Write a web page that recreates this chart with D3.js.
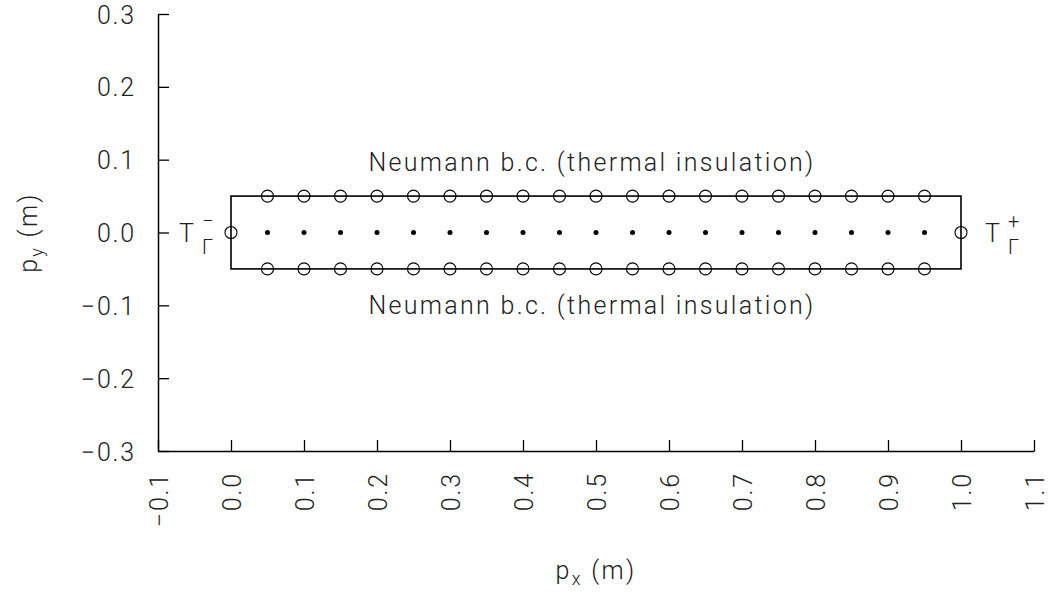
<!DOCTYPE html>
<html>
<head>
<meta charset="utf-8">
<script src="https://cdn.jsdelivr.net/npm/d3@7"></script>
<style>
  body { margin: 0; background: #fff; }
  text { font-family: Roboto, "DejaVu Sans", sans-serif; font-weight: 300; fill: #222; letter-spacing: 1.8px; }
</style>
</head>
<body>
<div id="chart"></div>
<script>
// grid nodes along the bar (interior and boundary)
var interiorX = [0.05, 0.10, 0.15, 0.20, 0.25, 0.30, 0.35, 0.40, 0.45, 0.50, 0.55, 0.60, 0.65, 0.70, 0.75, 0.80, 0.85, 0.90, 0.95];
var interiorY = 0.0;
var wallTopY = 0.05, wallBottomY = -0.05;
var endNodes = [{x: 0.0, y: 0.0}, {x: 1.0, y: 0.0}];
var domainBox = {x0: 0.0, x1: 1.0, y0: -0.05, y1: 0.05};

var xTicks = [-0.1, 0.0, 0.1, 0.2, 0.3, 0.4, 0.5, 0.6, 0.7, 0.8, 0.9, 1.0, 1.1];
var yTicks = [-0.3, -0.2, -0.1, 0.0, 0.1, 0.2, 0.3];
var bcLabel = "Neumann b.c. (thermal insulation)";

var W = 1052, H = 596;
var FS = 25;
var x = d3.scaleLinear().domain([-0.1, 1.1]).range([158, 1034]);
var y = d3.scaleLinear().domain([-0.3, 0.3]).range([451, 14]);

var svg = d3.select("#chart").append("svg")
  .attr("width", W).attr("height", H);

var fmt = function(d) { return d3.format(".1f")(d).replace("-", "\u2212"); };

// axes (ticks pointing inward)
var xAxis = svg.append("g")
  .attr("transform", "translate(0," + y(-0.3) + ")")
  .call(d3.axisBottom(x).tickValues(xTicks).tickSizeInner(-11).tickSizeOuter(0).tickFormat(fmt));
var yAxis = svg.append("g")
  .attr("transform", "translate(" + x(-0.1) + ",0)")
  .call(d3.axisLeft(y).tickValues(yTicks).tickSizeInner(-11).tickSizeOuter(0).tickFormat(fmt));

[xAxis, yAxis].forEach(function(a) {
  a.attr("font-family", null).attr("font-size", null);
  a.select(".domain").attr("stroke", "#000").attr("stroke-width", 1.5);
  a.selectAll(".tick line").attr("stroke", "#000").attr("stroke-width", 1.3);
  a.selectAll("text").attr("font-size", FS).attr("fill", "#222");
});
yAxis.selectAll(".tick text").attr("x", -22).attr("dy", "0.36em");
xAxis.selectAll(".tick text")
  .attr("transform", "rotate(-90)")
  .attr("text-anchor", "end")
  .attr("x", -21).attr("y", 0).attr("dy", "0.36em");

// bar outline
svg.append("rect")
  .attr("x", x(domainBox.x0)).attr("y", y(domainBox.y1))
  .attr("width", x(domainBox.x1) - x(domainBox.x0))
  .attr("height", y(domainBox.y0) - y(domainBox.y1))
  .attr("fill", "none").attr("stroke", "#000").attr("stroke-width", 1.6);

// boundary nodes (open circles)
var openPts = interiorX.map(function(v) { return {x: v, y: wallTopY}; })
  .concat(interiorX.map(function(v) { return {x: v, y: wallBottomY}; }))
  .concat(endNodes);
svg.selectAll("circle.open").data(openPts).enter().append("circle")
  .attr("class", "open")
  .attr("cx", function(d) { return x(d.x); })
  .attr("cy", function(d) { return y(d.y); })
  .attr("r", 6)
  .attr("fill", "none").attr("stroke", "#000").attr("stroke-width", 1.1);

// interior nodes (filled dots)
svg.selectAll("circle.dot").data(interiorX).enter().append("circle")
  .attr("class", "dot")
  .attr("cx", function(d) { return x(d); })
  .attr("cy", y(interiorY))
  .attr("r", 2.5).attr("fill", "#000");

// Neumann labels
[0.097, -0.1].forEach(function(v) {
  svg.append("text").attr("x", x(0.5) - 4).attr("y", y(v))
    .attr("text-anchor", "middle").attr("font-size", FS).attr("dy", "0.36em")
    .style("letter-spacing", "2.3px").text(bcLabel);
});

// T_Gamma labels at both ends
function tLabel(px, sup) {
  var g = svg.append("g").attr("transform", "translate(" + px + "," + y(0) + ")");
  g.append("text").attr("x", 0).attr("y", 0).attr("dy", "0.36em").attr("font-size", FS).text("T");
  g.append("text").attr("x", 23).attr("y", -5).attr("font-size", 20).text(sup);
  g.append("text").attr("x", 23).attr("y", 21).attr("font-size", 20).text("\u0393");
}
tLabel(x(0) - 52, "\u2212");
tLabel(x(1) + 24, "+");

// axis titles
var xt = svg.append("text").attr("x", x(0.5)).attr("y", 579).attr("text-anchor", "middle").attr("font-size", FS)
  .style("letter-spacing", "2.3px");
xt.append("tspan").text("p");
xt.append("tspan").attr("font-size", 18).attr("dy", 6).text("x");
xt.append("tspan").attr("dy", -6).text(" (m)");

var yt = svg.append("text").attr("transform", "translate(37," + y(0) + ") rotate(-90)").attr("text-anchor", "middle").attr("font-size", FS)
  .style("letter-spacing", "2.3px");
yt.append("tspan").text("p");
yt.append("tspan").attr("font-size", 18).attr("dy", 6).text("y");
yt.append("tspan").attr("dy", -6).text(" (m)");
</script>
</body>
</html>
